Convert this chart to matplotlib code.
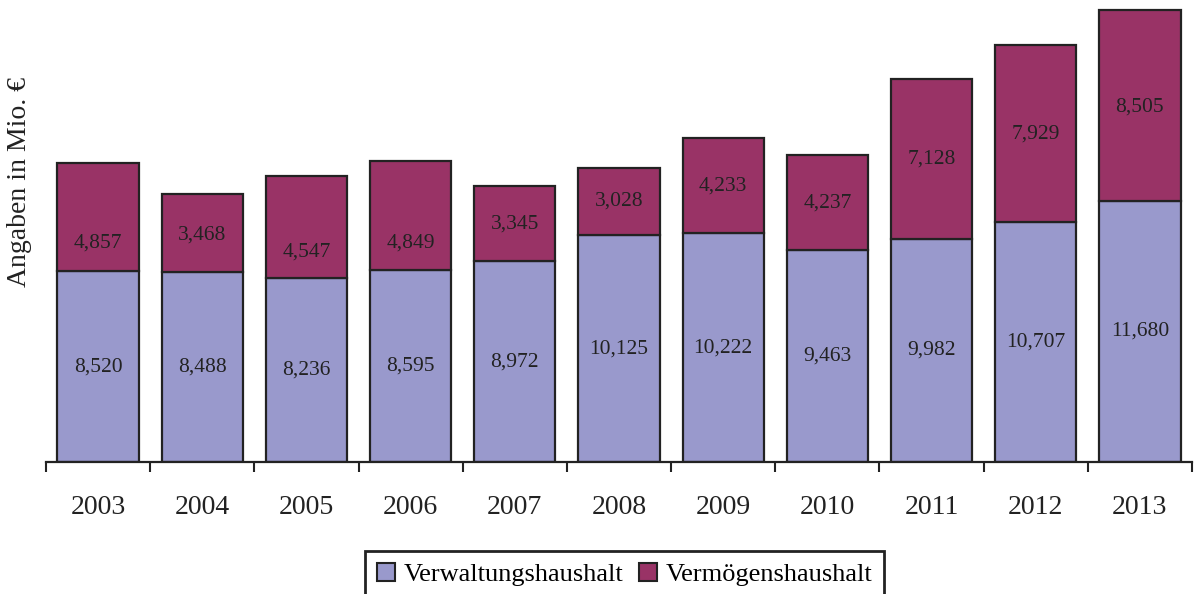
import matplotlib
matplotlib.use("Agg")
import matplotlib.pyplot as plt
from matplotlib.patches import Patch

years = ["2003", "2004", "2005", "2006", "2007", "2008", "2009", "2010", "2011", "2012", "2013"]
verwaltung = [8520, 8488, 8236, 8595, 8972, 10125, 10222, 9463, 9982, 10707, 11680]
vermoegen = [4857, 3468, 4547, 4849, 3345, 3028, 4233, 4237, 7128, 7929, 8505]

# vertical nudge (points) of the upper value labels, as placed in the original
upper_label_shift = [-19, -1, -18, -20, 0, 0, 0, 0, 0, 0, -1]

c_low = "#9999CC"
c_high = "#993366"
ink = "#222222"

plt.rcParams["font.family"] = ["Liberation Serif", "DejaVu Serif"]

fig = plt.figure(figsize=(11.94, 5.94), dpi=100)
ax = fig.add_axes([46/1194, 132/594, 1146/1194, 462/594])

x = list(range(len(years)))
ax.bar(x, verwaltung, width=0.78, color=c_low, edgecolor=ink, linewidth=1.6, zorder=2)
ax.bar(x, vermoegen, bottom=verwaltung, width=0.78, color=c_high, edgecolor=ink, linewidth=1.6, zorder=2)

for i in x:
    ax.text(i, verwaltung[i] / 2, f"{verwaltung[i]:,}", ha="center", va="center", fontsize=15.5, color=ink)
    ax.annotate(f"{vermoegen[i]:,}", (i, verwaltung[i] + vermoegen[i] / 2),
                xytext=(0, upper_label_shift[i]), textcoords="offset points",
                ha="center", va="center", fontsize=15.5, color=ink)

ax.set_xlim(-0.5, len(years) - 0.5)
ax.set_ylim(0, 20640)
for s in ["top", "right", "left"]:
    ax.spines[s].set_visible(False)
ax.spines["bottom"].set_linewidth(1.6)
ax.spines["bottom"].set_color(ink)
ax.set_yticks([])
ax.set_xticks([i - 0.5 for i in range(len(years) + 1)], minor=False)
ax.set_xticklabels([])
ax.tick_params(axis="x", which="major", length=7, width=1.5, color=ink, direction="out")
ax.set_xticks(x, minor=True)
ax.set_xticklabels(years, minor=True, fontsize=20, color=ink)
ax.tick_params(axis="x", which="minor", length=0, pad=24)

fig.text(20/1194, 1 - 182/594, "Angaben in Mio. €", rotation=90, ha="center", va="center", fontsize=20, color=ink)

handles = [Patch(facecolor=c_low, edgecolor=ink, linewidth=1.5, label="Verwaltungshaushalt"),
           Patch(facecolor=c_high, edgecolor=ink, linewidth=1.5, label="Vermögenshaushalt")]
leg = fig.legend(handles=handles, loc="upper left", bbox_to_anchor=(365/1194, 1 - 551/594), ncol=2,
                 fontsize=19, frameon=True, fancybox=False, edgecolor=ink, framealpha=1,
                 handlelength=0.7, handleheight=0.7, handletextpad=0.3, columnspacing=0.6,
                 borderpad=0.45, borderaxespad=0)
leg.get_frame().set_linewidth(2)

fig.savefig("out.png", dpi=100)
